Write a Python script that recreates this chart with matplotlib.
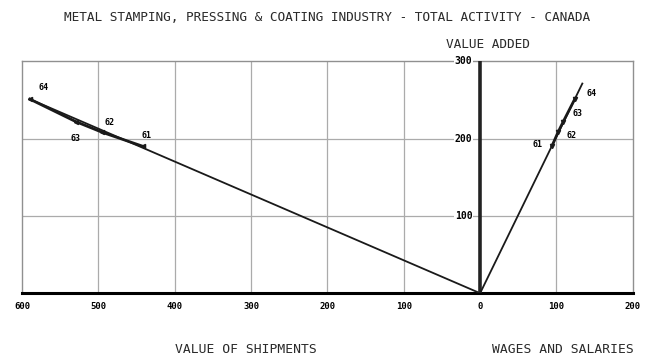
import numpy as np
import matplotlib.pyplot as plt

years = ['61', '62', '63', '64']
shipments = [442, 495, 530, 590]      # value of shipments
value_added = [190, 208, 222, 251]    # value added
wages = [94, 102, 109, 124]           # wages and salaries

x_ticks = [-600, -500, -400, -300, -200, -100, 0, 100, 200]
y_ticks = [100, 200, 300]

mono = 'DejaVu Sans Mono'

fig = plt.figure(figsize=(6.51, 3.62), dpi=100)
ax = fig.add_axes([0.034, 0.19, 0.938, 0.641])
ax.set_xlim(-600, 200)
ax.set_ylim(0, 300)

# grid
for x in x_ticks[1:-1]:
    if x != 0:
        ax.axvline(x, color='#ababab', lw=0.9, zorder=1)
for y in y_ticks[:-1]:
    ax.axhline(y, color='#ababab', lw=0.9, zorder=1)

for s in ['left', 'right', 'top']:
    ax.spines[s].set_color('#909090')
    ax.spines[s].set_linewidth(1.0)
ax.spines['bottom'].set_linewidth(2.2)
ax.axvline(0, color='#222222', lw=2.6, zorder=3)

# shipments side (plotted to the left)
ship = -np.array(shipments)
va = np.array(value_added)
w = np.array(wages)
ax.plot([0, ship.min()], [0, va.max()], color='#1a1a1a', lw=1.3, zorder=4)
ax.plot(ship, va, color='#1a1a1a', lw=2.0, zorder=5)
ax.plot(ship, va, '<', color='#1a1a1a', ms=3, zorder=6)

# wages side
k = 1.08
ax.plot([0, w.max() * k], [0, va.max() * k], color='#1a1a1a', lw=1.3, zorder=4)
ax.plot(w, va, color='#1a1a1a', lw=2.0, zorder=5)
ax.plot(w, va, 'v', color='#1a1a1a', ms=3, zorder=6)

left_off = {'61': (3, 8), '62': (5, 7), '63': (0, -12), '64': (10, 8)}
right_off = {'61': (-10, 1), '62': (10, -2), '63': (10, 6), '64': (12, 4)}
for i, yr in enumerate(years):
    ax.annotate(yr, (ship[i], va[i]), xytext=left_off[yr], textcoords='offset points',
                ha='center', va='center', fontsize=6, family=mono, weight='bold')
    ax.annotate(yr, (w[i], va[i]), xytext=right_off[yr], textcoords='offset points',
                ha='center', va='center', fontsize=6, family=mono, weight='bold')

ax.set_xticks(x_ticks)
ax.set_xticklabels([str(abs(v)) for v in x_ticks], fontsize=6.5, family=mono, weight='bold')
ax.tick_params(axis='x', length=0, pad=6)
ax.set_yticks([])
for y in y_ticks:
    ax.text(-10, y, str(y), ha='right', va='center', fontsize=7, family=mono,
            weight='bold', bbox=dict(facecolor='white', edgecolor='none', pad=0.5), zorder=7)

title_kw = dict(ha='center', va='center', family=mono, color='#2a2a2a')
fig.text(0.502, 0.953, 'METAL STAMPING, PRESSING & COATING INDUSTRY - TOTAL ACTIVITY - CANADA',
         fontsize=9.2, **title_kw)
fig.text(0.750, 0.878, 'VALUE ADDED', fontsize=9.2, **title_kw)
fig.text(0.378, 0.035, 'VALUE OF SHIPMENTS', fontsize=9.4, **title_kw)
fig.text(0.865, 0.035, 'WAGES AND SALARIES', fontsize=9.4, **title_kw)

fig.savefig('out.png', dpi=100)
